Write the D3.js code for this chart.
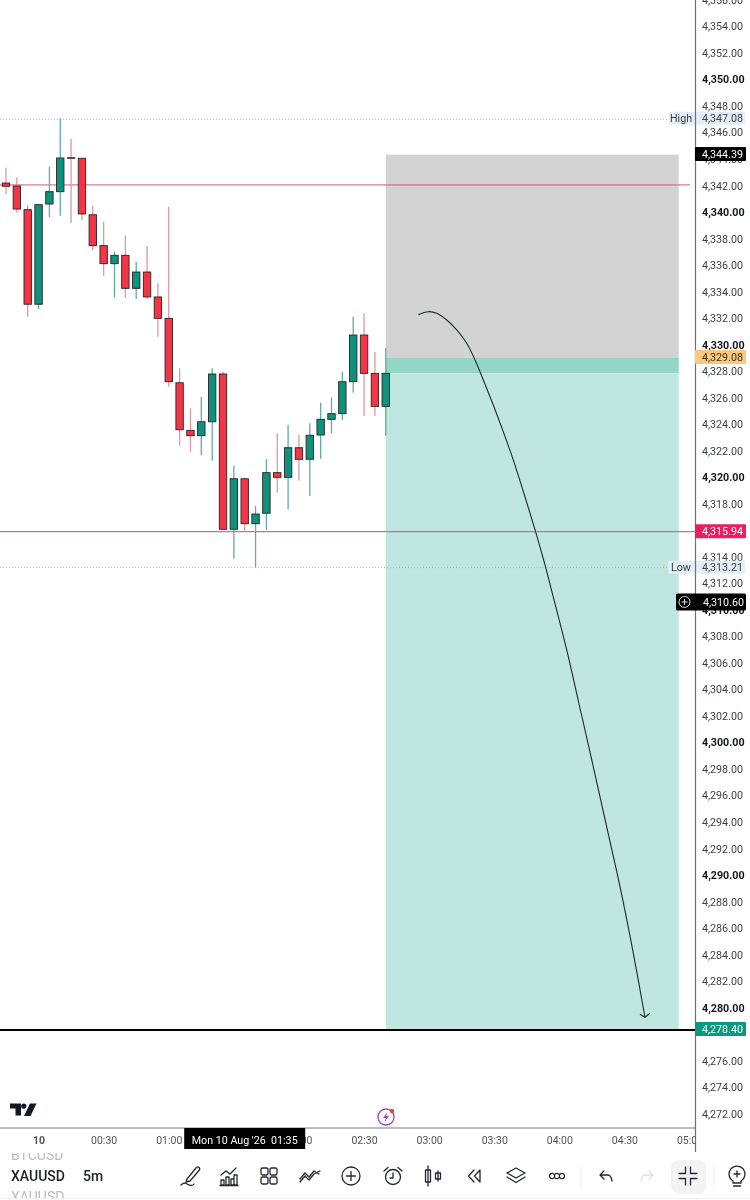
<!DOCTYPE html>
<html><head><meta charset="utf-8">
<script src="https://cdn.jsdelivr.net/npm/d3@7"></script>
<style>html,body{margin:0;padding:0;background:#fff}svg{display:block;filter:blur(.3px)}text{font-family:Roboto,sans-serif}</style>
</head><body><svg id="c" width="750" height="1200"></svg>
<script>
// candle series (index 0 = 23:45, one bar per 5m)
const opens=[4342.19,4341.97,4340.18,4333.05,4340.61,4341.54,4344.10,4344.06,4339.80,4337.47,4336.11,4336.74,4334.25,4335.48,4333.60,4331.99,4327.13,4323.54,4323.14,4324.19,4327.79,4316.08,4319.89,4316.50,4317.29,4320.35,4320.00,4322.23,4321.36,4323.19,4324.37,4324.80,4327.21,4330.73,4327.84,4325.35];
const highs=[4343.35,4342.62,4340.54,4340.56,4343.42,4347.08,4345.54,4344.06,4340.46,4339.28,4337.01,4338.22,4336.26,4337.47,4334.63,4340.41,4328.22,4325.20,4326.06,4328.22,4327.96,4320.87,4319.95,4317.84,4321.36,4323.32,4323.97,4323.21,4324.07,4325.63,4326.03,4327.96,4332.11,4332.37,4329.47,4329.73];
const lows=[4341.34,4339.95,4332.11,4332.69,4339.61,4339.73,4339.16,4339.40,4337.14,4335.20,4333.57,4333.54,4333.45,4333.45,4330.60,4326.83,4322.38,4321.93,4321.68,4321.25,4316.05,4313.86,4315.90,4313.21,4316.03,4318.84,4317.59,4319.74,4318.59,4321.40,4323.32,4324.32,4326.38,4324.62,4324.65,4323.14];
const closes=[4341.95,4340.23,4333.05,4340.56,4341.54,4344.08,4344.06,4339.86,4337.47,4336.11,4336.74,4334.25,4335.48,4333.60,4331.99,4327.21,4323.59,4323.14,4324.19,4327.79,4316.08,4319.89,4316.50,4317.23,4320.35,4320.00,4322.23,4321.36,4323.17,4324.37,4324.80,4327.21,4330.73,4327.84,4325.35,4327.84];
// long-position tool
const boxStartBar=35, boxEndBar=62;
const zoneTops=[4344.33,4329.00,4327.84];
const zoneBottoms=[4329.00,4327.84,4278.40];
const zoneFills=["#d3d3d3","#93d6c6","#bfe6df"];
// levels
const levelValues=[4342.05,4315.94,4278.40];
const levelColors=["#c4626e","#b47a98","#000000"];
const levelWidths=[1,1.3,2];
const dottedValues=[4347.08,4313.21];
// hand-drawn arrow
const arrowBars=[38.0,38.92,39.7,40.62,41.54,42.46,43.23,43.99,44.91,45.83,46.76,47.68,48.76,49.72,50.51,51.68,52.8,54.13,55.36,56.59,57.82,58.89];
const arrowPrices=[4332.26,4332.49,4332.37,4331.86,4331.11,4330.11,4328.85,4327.34,4325.45,4323.44,4321.30,4318.93,4316.03,4313.26,4310.75,4306.98,4302.96,4298.17,4293.65,4289.13,4284.10,4279.28];
const headBars=[58.43,58.89,59.35];
const headPrices=[4279.50,4279.28,4279.58];
// axes (labels fully covered by a price tag or the date tag are left out)
const priceTicks=d3.range(4272,4360,2).filter(d=>d!==4316&&d!==4278);
const timeBars=[3,9,15,27,33,39,45,51,57,63];
const timeLabels=["10","00:30","01:00","02:00","02:30","03:00","03:30","04:00","04:30","05:00"];
// price labels
const tagValues=[4344.39,4329.08,4315.94,4278.40];
const tagFills=["#000000","#fbc97c","#e91e63","#089981"];
const tagText=["#ffffff","#3a3020","#ffffff","#ffffff"];

const x=d3.scaleLinear().domain([0,1]).range([6,16.85]);
const y=d3.scaleLinear().domain([4350,4340]).range([79.5,212.1]);
const fmt=d3.format(",.2f");
const svg=d3.select("#c");
const defs=svg.append("defs");
defs.append("clipPath").attr("id","plot").append("rect").attr("width",695).attr("height",1128);
defs.append("clipPath").attr("id","time").append("rect").attr("width",695).attr("height",1152);
defs.append("clipPath").attr("id","panel").append("rect").attr("y",1153).attr("width",750).attr("height",45);
const plot=svg.append("g").attr("clip-path","url(#plot)");

// zones
plot.append("g").selectAll("rect").data(zoneTops).join("rect")
 .attr("x",x(boxStartBar)).attr("width",x(boxEndBar)-x(boxStartBar))
 .attr("y",d=>y(d)).attr("height",(d,i)=>y(zoneBottoms[i])-y(d)).attr("fill",(d,i)=>zoneFills[i]);
// dotted
plot.append("g").selectAll("line").data(dottedValues).join("line")
 .attr("x1",0).attr("x2",695).attr("y1",(d,i)=>y(d)+(i?.3:1.1)).attr("y2",(d,i)=>y(d)+(i?.3:1.1))
 .attr("stroke","#aeb4b8").attr("stroke-dasharray","1 2");
// levels
plot.append("g").selectAll("line").data(levelValues).join("line")
 .attr("x1",0).attr("x2",(d,i)=>i==0?690:695).attr("y1",(d,i)=>y(d)+(i==1?.5:i==2?1:0)).attr("y2",(d,i)=>y(d)+(i==1?.5:i==2?1:0))
 .attr("stroke",(d,i)=>levelColors[i]).attr("stroke-width",(d,i)=>levelWidths[i]);
// candles
const idx=d3.range(opens.length);
const up=i=>closes[i]>=opens[i];
const cg=plot.append("g");
cg.selectAll("line").data(idx).join("line")
 .attr("x1",i=>x(i)).attr("x2",i=>x(i)).attr("y1",i=>y(highs[i])).attr("y2",i=>y(lows[i]))
 .attr("stroke",i=>up(i)?"#5fae9f":"#dc98a3").attr("stroke-width",1.3);
cg.selectAll("rect").data(idx).join("rect")
 .attr("x",i=>x(i)-3.7).attr("width",7.4)
 .attr("y",i=>y(Math.max(opens[i],closes[i])))
 .attr("height",i=>Math.max(.4,Math.abs(y(opens[i])-y(closes[i]))))
 .attr("fill",i=>up(i)?"#0f917b":"#f23645").attr("stroke","#2a2326").attr("stroke-width",.9);
// arrow
const ln=d3.line().curve(d3.curveCatmullRom);
plot.append("path").attr("d",ln(arrowBars.map((b,i)=>[x(b),y(arrowPrices[i])]))).attr("fill","none").attr("stroke","#1f2a2a").attr("stroke-width",1.1);
plot.append("path").attr("d",d3.line()(headBars.map((b,i)=>[x(b),y(headPrices[i])]))).attr("fill","none").attr("stroke","#1f2a2a").attr("stroke-width",1.1);

// logo + lightning
const logo=svg.append("g").attr("transform","translate(10,1103.5)").attr("fill","#131722");
logo.append("path").attr("d","M0 0H11V12H5.5V5H0Z");
logo.append("circle").attr("cx",13.8).attr("cy",2.6).attr("r",2.6);
logo.append("path").attr("d","M20 0H26.5L20.5 12.5H14Z");
const bolt=svg.append("g").attr("transform","translate(386,1117)");
bolt.append("circle").attr("r",8).attr("fill","#fff").attr("stroke","#9c4fc4").attr("stroke-width",1.4);
bolt.append("path").attr("d","M1.5 -5L-3 1H0L-1.5 5L3 -1H0Z").attr("fill","#9c4fc4");
bolt.append("circle").attr("cx",6).attr("cy",-6).attr("r",2.2).attr("fill","#e5404f");

// time axis
const tAxis=svg.append("g").attr("clip-path","url(#time)")
 .append("g").attr("transform","translate(0,1128)")
 .call(d3.axisBottom(x).tickValues(timeBars).tickSize(0).tickPadding(0).tickFormat((d,i)=>timeLabels[i]));
tAxis.select(".domain").remove();
tAxis.selectAll("text").attr("y",12).attr("dy",".36em").attr("fill","#4f525a").attr("font-size",10.5)
 .attr("font-family","Roboto,sans-serif").attr("font-weight",(d,i)=>i==0?700:400);
svg.append("line").attr("x1",0).attr("x2",695).attr("y1",1128).attr("y2",1128).attr("stroke","#75787c").attr("stroke-width",1);

// price axis
const pAxis=svg.append("g").attr("transform","translate(695,0)")
 .call(d3.axisRight(y).tickValues(priceTicks).tickSize(0).tickPadding(7).tickFormat(fmt));
pAxis.select(".domain").remove();
pAxis.selectAll("text").attr("fill",d=>d%10==0?"#131722":"#3c3f46").attr("font-size",10.7)
 .attr("font-family","Roboto,sans-serif").attr("font-weight",d=>d%10==0?700:400);

// high/low badges
const hl=svg.append("g");
[[dottedValues[0],"High"],[dottedValues[1],"Low"]].forEach(([v,t])=>{
 const yy=y(v);
 const bx=t=="High"?669:668;
 hl.append("rect").attr("x",bx).attr("y",yy-6.5).attr("width",745-bx).attr("height",13).attr("fill","#e4eef9").attr("rx",1);
 hl.append("text").attr("x",t=="High"?670:671).attr("y",yy).attr("dy",".36em").attr("font-size",10.7).attr("fill","#3c4048").text(t);
 hl.append("text").attr("x",702).attr("y",yy).attr("dy",".36em").attr("font-size",10.7).attr("fill","#3c4048").text(fmt(v));
});
svg.append("line").attr("x1",695.5).attr("x2",695.5).attr("y1",0).attr("y2",1152).attr("stroke","#6d7074").attr("stroke-width",1.2);
// price tags
const tags=svg.append("g");
tags.selectAll("rect").data(tagValues).join("rect").attr("x",695).attr("width",51).attr("y",d=>y(d)-7).attr("height",14).attr("rx",1).attr("fill",(d,i)=>tagFills[i]);
tags.selectAll("text").data(tagValues).join("text").attr("x",702).attr("y",d=>y(d)).attr("dy",".36em").attr("font-size",10.7).attr("fill",(d,i)=>tagText[i]).text(fmt);
// crosshair tag
const cross=svg.append("g");
const crossPrice=4310.60;
cross.append("rect").attr("x",676).attr("y",y(crossPrice)-8.5).attr("width",70).attr("height",17).attr("rx",1.5).attr("fill","#000");
cross.append("circle").attr("cx",684.5).attr("cy",y(crossPrice)).attr("r",5.5).attr("fill","none").attr("stroke","#ddd");
cross.append("path").attr("d",`M681.5 ${y(crossPrice)}h6M684.5 ${y(crossPrice)-3}v6`).attr("stroke","#ddd");
cross.append("text").attr("x",703).attr("y",y(crossPrice)).attr("dy",".36em").attr("font-size",10.7).attr("fill","#fff").text(fmt(crossPrice));
// time tooltip
const tipBar=22;
svg.append("rect").attr("x",x(tipBar)-60.5).attr("y",1128).attr("width",121).attr("height",21).attr("fill","#000");
svg.append("text").attr("x",x(tipBar)).attr("y",1140).attr("dy",".36em").attr("text-anchor","middle").attr("font-size",10.7).attr("fill","#fff").attr("xml:space","preserve").text("Mon 10 Aug '26  01:35");

// bottom panel
const pan=svg.append("g");
svg.append("line").attr("x1",0).attr("x2",750).attr("y1",1198.5).attr("y2",1198.5).attr("stroke","#f1f1f1");
const pc=pan.append("g").attr("clip-path","url(#panel)");
pc.append("text").attr("x",11).attr("y",1160).attr("font-size",14).attr("fill","#b9bcc0").text("BTCUSD");
pc.append("text").attr("x",11).attr("y",1202).attr("font-size",14).attr("fill","#b9bcc0").text("XAUUSD");
pan.append("text").attr("x",11).attr("y",1181).attr("font-size",14).attr("font-weight",500).attr("fill","#1c1f26").text("XAUUSD");
pan.append("text").attr("x",83).attr("y",1181).attr("font-size",14).attr("font-weight",500).attr("fill","#1c1f26").text("5m");
pan.append("rect").attr("x",671).attr("y",1160).attr("width",35).attr("height",34).attr("rx",8).attr("fill","#f3f3f3");
[581,714].forEach(v=>pan.append("line").attr("x1",v).attr("x2",v).attr("y1",1167).attr("y2",1187).attr("stroke","#efefef"));
const icon=(cx,d,col)=>pan.append("path").attr("transform",`translate(${cx},1176)`).attr("d",d).attr("fill","none").attr("stroke",col||"#24272e").attr("stroke-width",1.3).attr("stroke-linecap","round").attr("stroke-linejoin","round");
icon(190,"M-3 3L6 -8Q8 -10 9 -8.5Q10.5 -7 9 -5.5L0 5L-4 6ZM-9 9Q-6 6 -3 8Q2 11 4 8");
icon(229,"M-8 -1L-3 -5L1 -2L7 -8M-8 9V4H-5V9ZM-3 9V1H0V9ZM2 9V3H5V9ZM5 9V-1H8V9ZM-9 9.5H9");
pan.append("g").attr("transform","translate(269,1176)").selectAll("rect").data([[-8,-8],[1,-8],[-8,1],[1,1]]).join("rect").attr("x",d=>d[0]).attr("y",d=>d[1]).attr("width",7).attr("height",7).attr("rx",1.5).attr("fill","none").attr("stroke","#24272e").attr("stroke-width",1.3);
icon(310,"M-10 3L-5 -3L-1 1L4 -5L9 -2M-10 6L-5 0L-1 4L4 -2L10 -5");
icon(351,"M-9 0A9 9 0 1 0 9 0A9 9 0 1 0 -9 0M-4.5 0H4.5M0 -4.5V4.5");
icon(393,"M-7.5 1A7.5 7.5 0 1 0 7.5 1A7.5 7.5 0 1 0 -7.5 1M0 -3V2H-3M-9 -5L-5 -8.5M9 -5L5 -8.5");
icon(433,"M-5 -10V10M-7.5 -6H-2.5V6H-7.5ZM5 -5V5M2.5 -3H7.5V3H2.5Z");
icon(475,"M-1 -6L-6.5 0L-1 6M5 -6L-.5 0L5 6ZM-1 -6");
icon(516,"M0 -8L9 -3L0 2L-9 -3ZM-9 1L0 6.5L9 1M-9 1");
icon(557,"M-7.5 0a2.6 2.6 0 1 0 5.2 0a2.6 2.6 0 1 0 -5.2 0M-2.6 0a2.6 2.6 0 1 0 5.2 0a2.6 2.6 0 1 0 -5.2 0M2.3 0a2.6 2.6 0 1 0 5.2 0a2.6 2.6 0 1 0 -5.2 0");
icon(606,"M-2 -5L-6 -1L-2 3M-6 -1H2Q5 -1 6 5");
icon(647,"M2 -5L6 -1L2 3M6 -1H-2Q-5 -1 -6 5","#dfe0e2");
icon(688,"M-2.5 -9V-2.5H-9M2.5 -9V-2.5H9M-2.5 9V2.5H-9M2.5 9V2.5H9");
icon(737,"M-4 5A8 8 0 1 1 4 5V7H-4ZM-3.5 10H3.5M-3 -2H3M0 -5V1");
</script></body></html>
